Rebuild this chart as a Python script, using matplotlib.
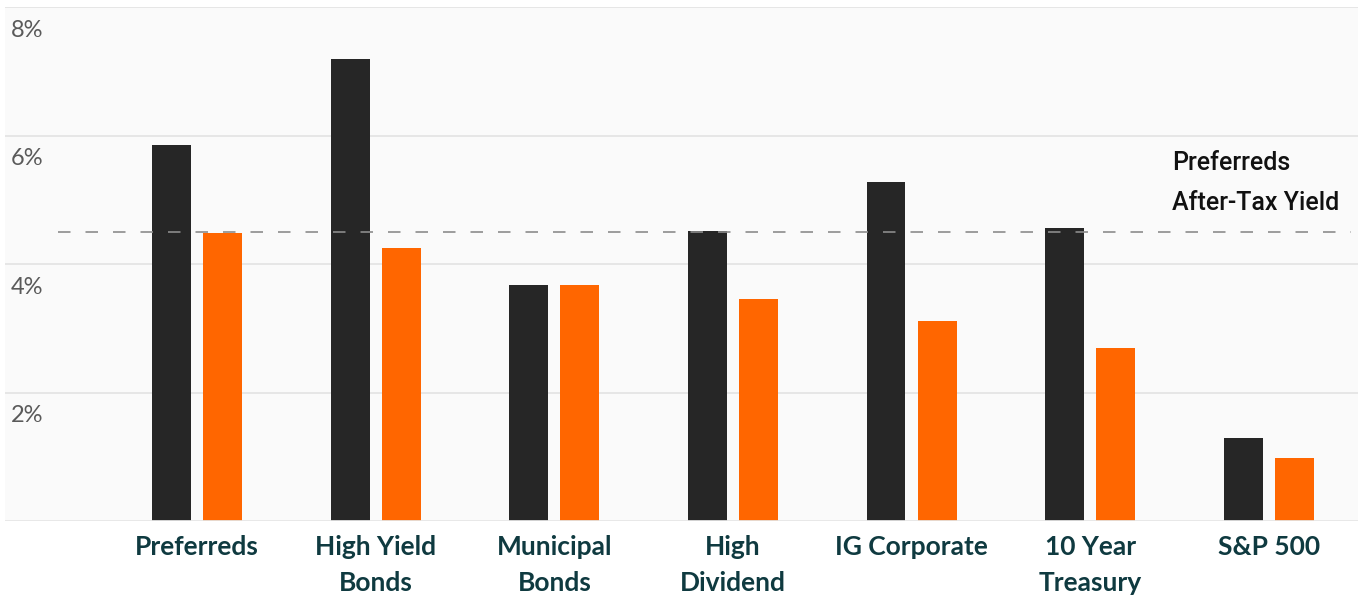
import matplotlib
matplotlib.use("Agg")
import matplotlib.pyplot as plt
import matplotlib.transforms as mtransforms
import numpy as np

categories = ["Preferreds", "High Yield\nBonds", "Municipal\nBonds", "High\nDividend",
              "IG Corporate", "10 Year\nTreasury", "S&P 500"]
pre_tax = [5.85, 7.19, 3.68, 4.52, 5.28, 4.57, 1.30]
after_tax = [4.49, 4.25, 3.68, 3.46, 3.12, 2.70, 0.99]
ref_yield = 4.5
ref_label = "Preferreds\nAfter-Tax Yield"
yticks = [2, 4, 6, 8]

plt.rcParams['font.family'] = ['Lato', 'DejaVu Sans']

fig = plt.figure(figsize=(13.58, 5.99), dpi=100)
fig.patch.set_facecolor("white")
ax = fig.add_axes([0.0037, 0.130, 0.9963, 0.858])
ax.set_facecolor("#fafafa")

x = np.arange(len(categories))
w = 0.218
ax.bar(x - 0.143, pre_tax, width=w, color="#262626", zorder=3)
ax.bar(x + 0.143, after_tax, width=w, color="#ff6600", zorder=3)

ax.set_xlim(-1.076, 6.50)
ax.set_ylim(0, 8)

for v in yticks:
    ax.axhline(v, color="#e2e2e2", lw=1.2, zorder=1)
ax.axhline(0, color="#e6e6e6", lw=2.0, zorder=4)

# y labels drawn inside the plot, just under each gridline
trans = mtransforms.blended_transform_factory(ax.transAxes, ax.transData)
for v in yticks:
    ax.annotate("%d%%" % v, xy=(0.004, v), xycoords=trans, xytext=(0, -9),
                textcoords="offset points", ha="left", va="top",
                fontsize=17, color="#5a5a5a")

ax.hlines(ref_yield, -0.78, 6.46, colors="#8c8c8c", lw=1.2,
          linestyles=(0, (7.5, 9)), zorder=5)
ax.annotate(ref_label, xy=(5.46, ref_yield), xycoords="data", xytext=(0, 12),
            textcoords="offset points", ha="left", va="bottom",
            fontsize=18, fontfamily=["Roboto", "DejaVu Sans"], fontweight="medium",
            color="#111111", linespacing=1.85)

ax.set_xticks(x)
ax.set_xticklabels(categories, fontsize=19, fontweight="bold", color="#0f3a40",
                   linespacing=1.6, va="top")
ax.tick_params(axis="x", length=0, pad=10)
ax.set_yticks([])
for s in ax.spines.values():
    s.set_visible(False)

fig.savefig("out.png", dpi=100, facecolor="white")
